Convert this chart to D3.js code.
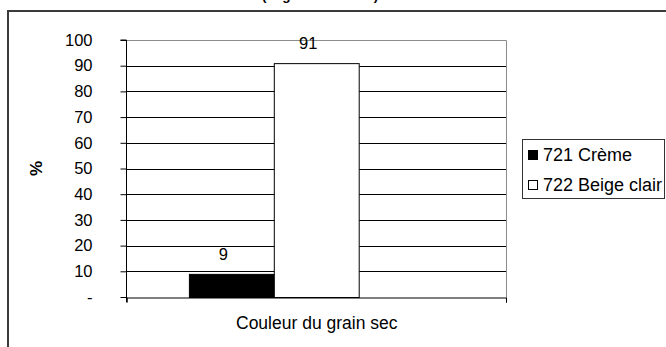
<!DOCTYPE html>
<html>
<head>
<meta charset="utf-8">
<script src="https://cdn.jsdelivr.net/npm/d3@7"></script>
<style>
  html, body { margin: 0; padding: 0; background: #fff; }
  svg { display: block; font-family: "Liberation Sans", Arial, sans-serif; }
</style>
</head>
<body>
<svg id="chart" width="666" height="347"></svg>
<script>
// Chart data
const categories = ["Couleur du grain sec"];
const seriesNames = ["721 Crème", "722 Beige clair"];
const seriesValues = [9, 91];
const seriesFills = ["#000000", "#ffffff"];
const yTicks = [0, 10, 20, 30, 40, 50, 60, 70, 80, 90, 100];
const titleText = "(% grains étudiés)";
const yAxisTitle = "%";

const svg = d3.select("#chart");

const plot = { left: 126.5, right: 506, top: 40, bottom: 297 };

// Outer chart frame (continues past the right and bottom edges)
svg.append("path")
  .attr("d", `M8,${347 + 5} V11 H${666 + 5}`)
  .attr("fill", "none")
  .attr("stroke", "#3a3a3a")
  .attr("stroke-width", 2);

// Title line, clipped by the top edge
svg.append("text")
  .attr("x", 262)
  .attr("y", 0.3)
  .attr("font-size", 13.5)
  .attr("font-weight", "bold")
  .attr("fill", "#000")
  .text(titleText);

// Scales
const y = d3.scaleLinear().domain([0, 100]).range([plot.bottom, plot.top]);

const x0 = d3.scaleBand()
  .domain(categories)
  .range([plot.left, plot.right])
  .paddingOuter(0.245);

// Cluster has room for three slots; the two series fill the first two
const x1 = d3.scaleBand()
  .domain(seriesNames)
  .range([0, x0.bandwidth() * 2 / 3]);

// Horizontal gridlines
svg.append("g")
  .selectAll("line")
  .data(yTicks.filter(d => d > 0 && d < 100))
  .join("line")
  .attr("x1", plot.left)
  .attr("x2", plot.right)
  .attr("y1", d => Math.round(y(d)) + 0.5)
  .attr("y2", d => Math.round(y(d)) + 0.5)
  .attr("stroke", "#000")
  .attr("stroke-width", 1);

// Plot area border (top and right, grey)
svg.append("path")
  .attr("d", `M${plot.left},${Math.round(y(100)) + 0.5} H${plot.right + 0.5} V${plot.bottom}`)
  .attr("fill", "none")
  .attr("stroke", "#8c8c8c")
  .attr("stroke-width", 1);

// Bars
const rows = seriesNames.map((name, i) => ({ category: categories[0], name, value: seriesValues[i], fill: seriesFills[i] }));

svg.append("g")
  .selectAll("rect")
  .data(rows)
  .join("rect")
  .attr("x", d => x0(d.category) + x1(d.name) + 0.5)
  .attr("y", d => y(d.value) + 0.5)
  .attr("width", x1.bandwidth())
  .attr("height", d => y(0) - y(d.value))
  .attr("fill", d => d.fill)
  .attr("stroke", "#000")
  .attr("stroke-width", 1);

// Value labels
svg.append("g")
  .selectAll("text")
  .data(rows)
  .join("text")
  .attr("x", d => x0(d.category) + x1(d.name) + x1.bandwidth() / 2 - 8)
  .attr("y", d => y(d.value) - 14)
  .attr("text-anchor", "middle")
  .attr("font-size", 16.5)
  .attr("fill", "#000")
  .text(d => d.value);

// Y axis
const yAxis = d3.axisLeft(y)
  .tickValues(yTicks)
  .tickSize(6)
  .tickPadding(28)
  .tickFormat(d => d === 0 ? "-" : d);

const gy = svg.append("g")
  .attr("transform", `translate(${plot.left},0)`)
  .call(yAxis);
gy.select(".domain").attr("stroke", "#000").attr("d", `M-6,${y(100)}H0V${y(0) + 5}`);
gy.selectAll(".tick line").attr("stroke", "#000");
gy.selectAll(".tick text")
  .attr("font-size", 16.5)
  .attr("font-family", "Liberation Sans, Arial, sans-serif")
  .attr("fill", "#000");

// X axis baseline with end ticks
const xAxis = d3.axisBottom(d3.scaleLinear().domain([0, 1]).range([plot.left, plot.right]))
  .tickValues([0, 1])
  .tickSize(5)
  .tickFormat("");
const gx = svg.append("g")
  .attr("transform", `translate(0,${Math.round(y(0)) + 0.5})`)
  .call(xAxis);
gx.selectAll("path, line").attr("stroke", "#000");

// Category label
svg.append("text")
  .attr("x", x0(categories[0]) + x0.bandwidth() / 2 + 0.5)
  .attr("y", 329)
  .attr("text-anchor", "middle")
  .attr("font-size", 17.5)
  .attr("fill", "#000")
  .text(categories[0]);

// Y axis title
svg.append("text")
  .attr("transform", `translate(42,${(plot.top + plot.bottom) / 2}) rotate(-90)`)
  .attr("text-anchor", "middle")
  .attr("font-size", 17)
  .attr("font-weight", "bold")
  .attr("fill", "#000")
  .text(yAxisTitle);

// Legend
const legend = svg.append("g");
legend.append("rect")
  .attr("x", 522.5).attr("y", 139.5)
  .attr("width", 142).attr("height", 59)
  .attr("fill", "#fff")
  .attr("stroke", "#333")
  .attr("stroke-width", 1);

const items = legend.selectAll("g.item")
  .data(rows)
  .join("g")
  .attr("class", "item")
  .attr("transform", (d, i) => `translate(0,${161 + i * 30})`);

items.append("rect")
  .attr("x", 528.5).attr("y", -10.5)
  .attr("width", 9).attr("height", 9)
  .attr("fill", d => d.fill)
  .attr("stroke", "#000")
  .attr("stroke-width", 1);

items.append("text")
  .attr("x", 543)
  .attr("y", 0)
  .attr("font-size", 18)
  .attr("fill", "#000")
  .text(d => d.name);
</script>
</body>
</html>
